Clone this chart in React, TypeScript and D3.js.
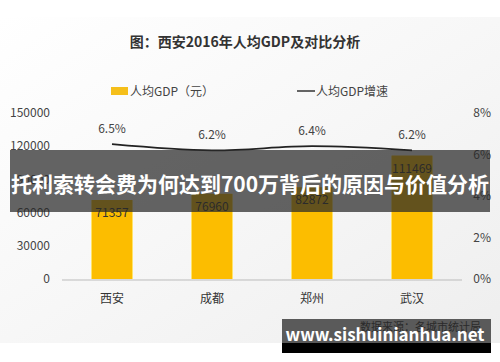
import React from "react";
import * as d3 from "d3";

const cities = ["西安", "成都", "郑州", "武汉"];
const gdpPerCapita = [71357, 76960, 82872, 111469];
const growth = [6.5, 6.2, 6.4, 6.2];
const leftTicks = [0, 30000, 60000, 90000, 120000, 150000];
const rightTicks = [0, 2, 4, 6, 8];

const FONT = "'Noto Sans CJK SC', 'Noto Sans', sans-serif";

export default function App() {
  const width = 500;
  const height = 362;
  const plot = { left: 62, right: 462, top: 113, bottom: 279 };

  const x = d3.scaleBand<string>()
    .domain(cities)
    .range([plot.left, plot.right])
    .paddingInner(0.6)
    .paddingOuter(0.3);
  const y = d3.scaleLinear().domain([0, 150000]).range([plot.bottom, plot.top]);
  const y2 = d3.scaleLinear().domain([0, 8]).range([plot.bottom, plot.top]);

  const line = d3.line<number>()
    .x((_, i) => (x(cities[i]) as number) + x.bandwidth() / 2)
    .y(d => y2(d))
    .curve(d3.curveCatmullRom.alpha(0.5));

  return (
    <div style={{ position: "fixed", left: 0, top: 0 }}>
      <svg width={width} height={height} style={{ display: "block", fontFamily: FONT }}>
        <defs>
          <linearGradient id="bg" x1="0" y1="0" x2="1" y2="1">
            <stop offset="0" stopColor="#ffffff" />
            <stop offset="0.5" stopColor="#f7f7f7" />
            <stop offset="1" stopColor="#eeeeee" />
          </linearGradient>
        </defs>
        <rect x={0} y={0} width={width} height={height} fill="#ffffff" />
        <rect x={0} y={17} width={width} height={326} fill="url(#bg)" />

        <text x={245} y={47} textAnchor="middle" fontSize={14} fontWeight="bold" fill="#333">
          图：西安2016年人均GDP及对比分析
        </text>

        {/* legend */}
        <rect x={111} y={87} width={17} height={8} fill="#f5bf1a" />
        <text x={130} y={96} fontSize={12} fill="#444">人均GDP（元）</text>
        <line x1={297} x2={315} y1={91} y2={91} stroke="#333" strokeWidth={1.5} />
        <text x={316} y={96} fontSize={12} fill="#444">人均GDP增速</text>

        {/* left axis */}
        {leftTicks.map(t => (
          <text key={t} x={50} y={y(t)} dy="0.35em" textAnchor="end" fontSize={12} fill="#444">
            {t}
          </text>
        ))}
        {/* right axis */}
        {rightTicks.map(t => (
          <text key={t} x={491} y={y2(t)} dy="0.35em" textAnchor="end" fontSize={12} fill="#444">
            {t}%
          </text>
        ))}
        <line x1={plot.left} x2={plot.right} y1={plot.bottom + 1} y2={plot.bottom + 1} stroke="#bbb" />

        {/* bars */}
        {cities.map((c, i) => (
          <g key={c}>
            <rect
              x={(x(c) as number) - 1}
              y={y(gdpPerCapita[i])}
              width={x.bandwidth() + 2}
              height={plot.bottom - y(gdpPerCapita[i])}
              fill="#ffe36b"
            />
            <rect
              x={x(c)}
              y={y(gdpPerCapita[i])}
              width={x.bandwidth()}
              height={plot.bottom - y(gdpPerCapita[i])}
              fill="#fcbd00"
            />
            <text
              x={(x(c) as number) + x.bandwidth() / 2}
              y={y(gdpPerCapita[i]) + 17}
              textAnchor="middle"
              fontSize={12}
              fill="#333"
            >
              {gdpPerCapita[i]}
            </text>
            <text
              x={(x(c) as number) + x.bandwidth() / 2}
              y={299}
              dy="0.35em"
              textAnchor="middle"
              fontSize={12}
              fill="#333"
            >
              {c}
            </text>
          </g>
        ))}

        {/* growth line */}
        <path d={line(growth) as string} fill="none" stroke="#222" strokeWidth={1.8} />
        {growth.map((g, i) => (
          <text
            key={i}
            x={(x(cities[i]) as number) + x.bandwidth() / 2}
            y={y2(g) - 11}
            textAnchor="middle"
            fontSize={12}
            fill="#444"
          >
            {g.toFixed(1)}%
          </text>
        ))}

        {/* headline banner */}
        <rect x={10} y={150} width={480} height={62} fill="rgba(40,40,40,0.72)" />
        <text x={250} y={185} dy="0.35em" textAnchor="middle" fontSize={21} fontWeight="bold" fill="#fff">
          托利索转会费为何达到700万背后的原因与价值分析
        </text>

        {/* source + watermark */}
        <rect x={282} y={319} width={209} height={24} fill="#5a5a5a" />
        <text x={481} y={331} textAnchor="end" fontSize={11} fill="#2a2a2a">数据来源：各城市统计局</text>
        <rect x={282} y={343} width={209} height={10} fill="#000" />
        <text x={385} y={341} textAnchor="middle" fontSize={17} fontWeight="bold" fill="#fff">
          www.sishuinianhua.net
        </text>
      </svg>
    </div>
  );
}
